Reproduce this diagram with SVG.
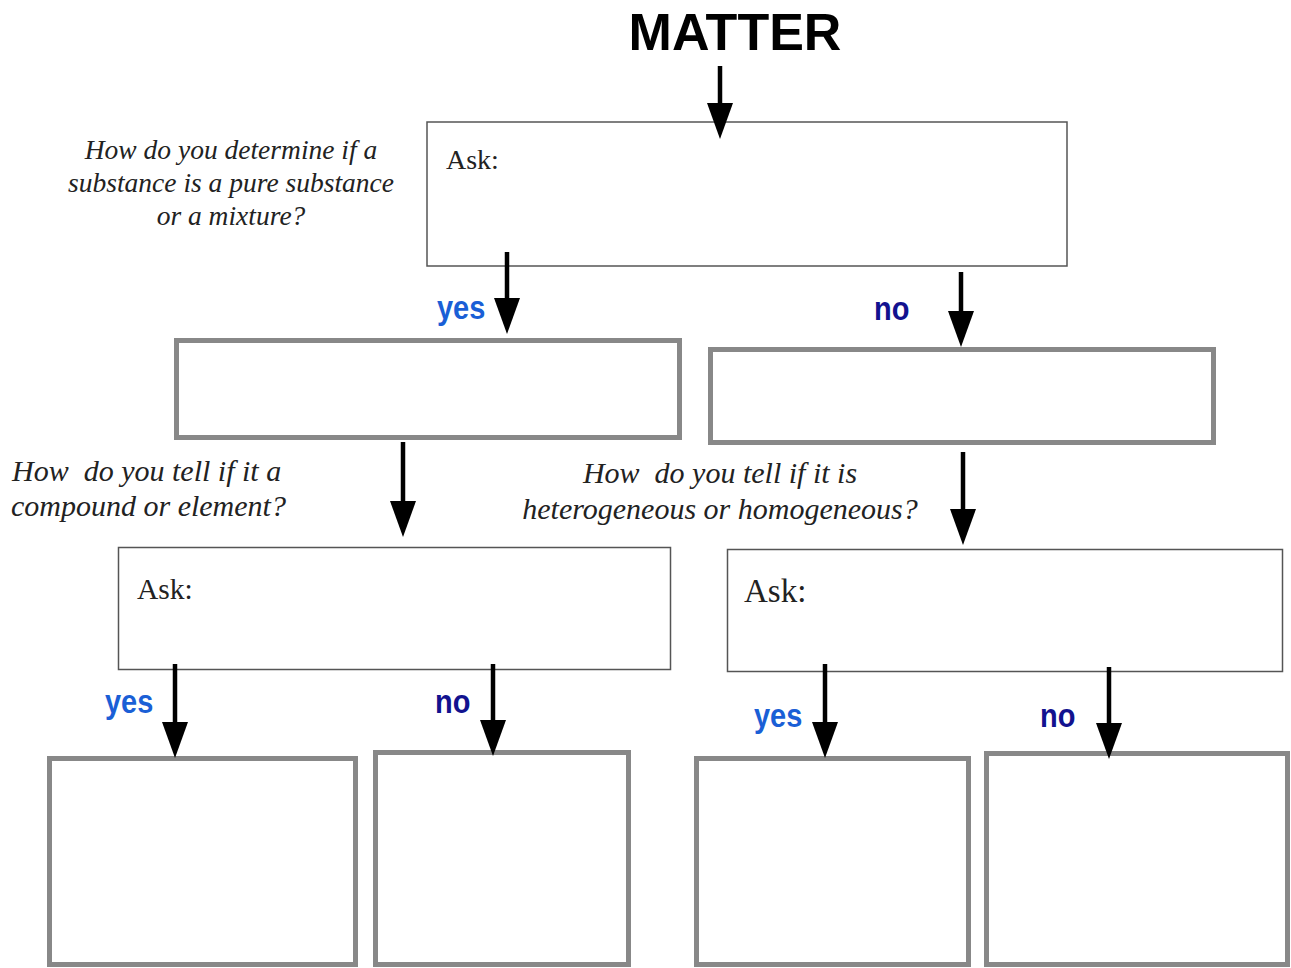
<svg xmlns="http://www.w3.org/2000/svg" width="1291" height="968" viewBox="0 0 1291 968">
<style>
.thin{fill:#fff;stroke:#555;stroke-width:1.5}
.thick{fill:#fff;stroke:#888;stroke-width:5}
.arr{fill:none;stroke:#000;stroke-width:4.5;marker-end:url(#ah)}
.title{font-family:"Liberation Sans",Arial,sans-serif;font-weight:bold;font-size:52px;fill:#000}
.q{font-family:"Liberation Serif","Times New Roman",serif;font-style:italic;fill:#222}
.ask{font-family:"Liberation Serif","Times New Roman",serif;fill:#222}
.lbl{font-family:"Liberation Sans",Arial,sans-serif;font-weight:bold;font-size:29px}
.yes{fill:#1a5fd6}
.no{fill:#12128f}
</style>
<defs>
<marker id="ah" markerUnits="userSpaceOnUse" markerWidth="36" markerHeight="26" viewBox="0 0 36 26" refX="0" refY="13" orient="auto" overflow="visible">
<path d="M0,0 L36,13 L0,26 z" fill="#000"/>
</marker>
</defs>
<rect width="1291" height="968" fill="#fff"/>

<text class="title" x="735" y="50" text-anchor="middle">MATTER</text>

<g id="q1" class="q" font-size="27.5" text-anchor="middle">
<text x="231" y="159">How do you determine if a</text>
<text x="231" y="192">substance is a pure substance</text>
<text x="231" y="225">or a mixture?</text>
</g>
<g id="q2" class="q" font-size="30">
<text x="12" y="481" xml:space="preserve">How  do you tell if it a</text>
<text x="11" y="516">compound or element?</text>
</g>
<g id="q3" class="q" font-size="30" text-anchor="middle">
<text x="720" y="483" xml:space="preserve">How  do you tell if it is</text>
<text x="720" y="519">heterogeneous or homogeneous?</text>
</g>

<g id="box-top"><rect class="thin" x="427" y="122" width="640" height="144"/><text class="ask" x="446" y="169" font-size="28">Ask:</text></g>
<g id="box-pure"><rect class="thick" x="176.5" y="340.5" width="503" height="97"/></g>
<g id="box-mixture"><rect class="thick" x="710.5" y="349.5" width="503" height="93"/></g>
<g id="box-ask-left"><rect class="thin" x="118.5" y="547.5" width="552" height="122"/><text class="ask" x="137" y="599" font-size="29.5">Ask:</text></g>
<g id="box-ask-right"><rect class="thin" x="727.5" y="549.5" width="555" height="122"/><text class="ask" x="744" y="602" font-size="33">Ask:</text></g>
<g id="box-b1"><rect class="thick" x="49.5" y="758.5" width="306" height="206"/></g>
<g id="box-b2"><rect class="thick" x="375.5" y="752.5" width="253" height="212"/></g>
<g id="box-b3"><rect class="thick" x="696.5" y="758.5" width="272" height="206"/></g>
<g id="box-b4"><rect class="thick" x="986.5" y="753.5" width="301" height="211"/></g>

<g id="connectors">
<path class="arr" d="M720,66 V103"/>
<path class="arr" d="M507,252 V298"/>
<path class="arr" d="M961,272 V311"/>
<path class="arr" d="M403,442 V501"/>
<path class="arr" d="M963,452 V509"/>
<path class="arr" d="M175,664 V722"/>
<path class="arr" d="M493,664 V720"/>
<path class="arr" d="M825,664 V722"/>
<path class="arr" d="M1109,667 V723"/>
<text class="lbl yes" transform="translate(437,319) scale(1,1.12)">yes</text>
<text class="lbl no" transform="translate(874,320) scale(1,1.12)">no</text>
<text class="lbl yes" transform="translate(105,713) scale(1,1.12)">yes</text>
<text class="lbl no" transform="translate(435,713) scale(1,1.12)">no</text>
<text class="lbl yes" transform="translate(754,727) scale(1,1.12)">yes</text>
<text class="lbl no" transform="translate(1040,727) scale(1,1.12)">no</text>
</g>
</svg>
